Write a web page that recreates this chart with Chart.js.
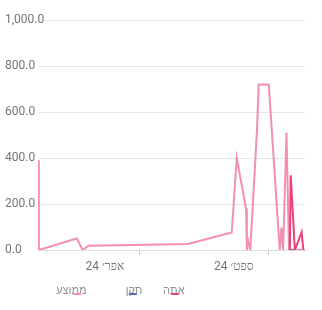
<!DOCTYPE html>
<html dir="rtl">
<head>
<meta charset="utf-8">
<script src="https://cdn.jsdelivr.net/npm/chart.js@4/dist/chart.umd.min.js"></script>
<style>
html,body{margin:0;padding:0;background:#fff;}
#wrap{width:322px;height:310px;position:relative;}
</style>
</head>
<body>
<div id="wrap"><canvas id="c"></canvas></div>
<script>
// Days relative to 1 April 2024
const seriesNames = ['אתה', 'תקן', 'ממוצע'];
const youDays = [178, 179, 184, 192, 194];
const youValues = [0, 325, 0, 78, 0];
const standardDays = [179, 184];
const standardValues = [0, 0];
const averageDays = [-121, -120, -75, -68, -61, 57, 109, 115, 126, 127, 128, 131, 139, 141, 153, 166, 168, 170, 174, 177, 196];
const averageValues = [390, 0, 50, 0, 18, 26, 76, 400, 180, 0, 48, 0, 520, 720, 720, 0, 97, 0, 510, 0, 0];
const tickDays = [0, 153];
const tickLabels = ['אפר׳ 24', 'ספט׳ 24'];
const xMin = -121, xMax = 196;
const yMax = 1000, yStep = 200;

const colors = ['#ec407a', '#5c6bc0', '#f48fb1'];

function pts(xs, ys) { return xs.map((x, i) => ({x: x, y: ys[i]})); }

const grey = '#757575';

// Legend drawn the way the reference shows it: box first, text right-aligned just after it (overlapping)
const overlapLegend = {
  id: 'overlapLegend',
  afterDraw(chart) {
    const ctx = chart.ctx;
    const boxW = 8, fontSize = 11, pad = 12, half = fontSize / 2;
    ctx.save();
    ctx.font = fontSize + 'px Roboto, "Noto Sans", sans-serif';
    const items = chart.data.datasets.map((d, i) => ({text: d.label, color: d.borderColor})).reverse();
    const widths = items.map(it => boxW + half + ctx.measureText(it.text).width);
    let x = chart.chartArea.left + 35;
    const yText = chart.height - 19;
    items.forEach((it, i) => {
      ctx.fillStyle = '#8f8f8f';
      ctx.textAlign = 'right';
      ctx.textBaseline = 'middle';
      ctx.fillText(it.text, x + boxW + half, yText);
      ctx.strokeStyle = it.color;
      ctx.lineWidth = 2;
      ctx.beginPath();
      ctx.moveTo(x, yText + 3);
      ctx.lineTo(x + boxW, yText + 3);
      ctx.stroke();
      x += widths[i] + pad;
    });
    ctx.restore();
  }
};

new Chart(document.getElementById('c'), {
  type: 'line',
  data: {
    datasets: [
      {label: seriesNames[0], data: pts(youDays, youValues), borderColor: colors[0], backgroundColor: colors[0]},
      {label: seriesNames[1], data: pts(standardDays, standardValues), borderColor: colors[1], backgroundColor: colors[1]},
      {label: seriesNames[2], data: pts(averageDays, averageValues), borderColor: colors[2], backgroundColor: colors[2]}
    ]
  },
  plugins: [overlapLegend],
  options: {
    responsive: true,
    maintainAspectRatio: false,
    animation: false,
    elements: {point: {radius: 0}, line: {borderWidth: 2, tension: 0}},
    layout: {padding: {left: 38, right: 17, top: 20, bottom: 32}},
    plugins: {
      tooltip: {enabled: false},
      legend: {display: false}
    },
    scales: {
      x: {
        type: 'linear',
        min: xMin, max: xMax,
        afterBuildTicks: (s) => { s.ticks = tickDays.map(v => ({value: v})); },
        afterFit: (s) => { s.height = 28; },
        ticks: {
          autoSkip: false, maxRotation: 0,
          callback: (v, i) => tickLabels[i],
          labelOffset: -35,
          padding: 5,
          font: {family: 'Roboto', size: 12}, color: grey
        },
        grid: {drawOnChartArea: false, tickLength: 5, color: '#cccccc'},
        border: {color: '#dddddd'}
      },
      y: {
        min: 0, max: yMax,
        ticks: {
          stepSize: yStep,
          mirror: true,
          padding: -11,
          showLabelBackdrop: true,
          backdropColor: '#ffffff',
          backdropPadding: 0,
          callback: (v) => v.toLocaleString('en-US', {minimumFractionDigits: 1, maximumFractionDigits: 1}),
          font: {family: 'Roboto', size: 12}, color: grey
        },
        grid: {color: '#e6e6e6', drawTicks: false},
        border: {display: false}
      }
    }
  }
});
</script>
</body>
</html>
